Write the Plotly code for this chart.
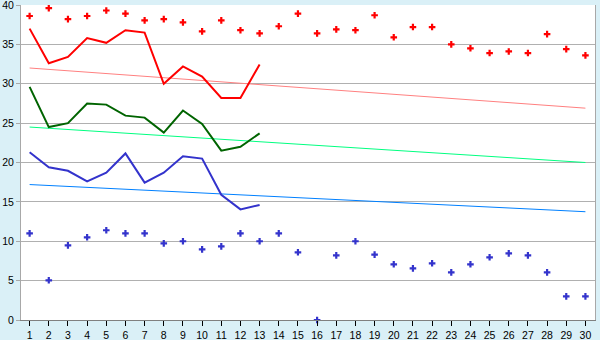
import plotly.graph_objects as go

days = list(range(1, 31))
line_days = list(range(1, 14))

red_points = [38.6, 39.6, 38.2, 38.6, 39.3, 38.9, 38.05, 38.2, 37.8, 36.65,
              38.05, 36.8, 36.4, 37.3, 38.9, 36.4, 36.9, 36.8, 38.7, 35.9,
              37.2, 37.2, 35.0, 34.5, 33.9, 34.1, 33.9, 36.3, 34.4, 33.6]
blue_points = [11.0, 5.04, 9.48, 10.5, 11.4, 11.0, 11.0, 9.73, 10.0, 8.97,
               9.35, 11.0, 10.0, 11.0, 8.6, 0.0, 8.21, 10.0, 8.3, 7.07,
               6.56, 7.2, 6.05, 7.07, 7.96, 8.46, 8.21, 6.05, 3.0, 3.0]

red_line = [37.0, 32.6, 33.4, 35.8, 35.2, 36.8, 36.5, 30.0, 32.2, 30.9, 28.2, 28.2, 32.45]
green_line = [29.6, 24.5, 25.0, 27.5, 27.35, 25.95, 25.7, 23.8, 26.6, 24.9, 21.5, 22.0, 23.7]
blue_line = [21.3, 19.4, 18.95, 17.6, 18.7, 21.15, 17.45, 18.7, 20.8, 20.5, 15.9, 14.05, 14.6]

trend_days = [1, 30]
red_trend = [32.0, 26.9]
green_trend = [24.5, 20.0]
blue_trend = [17.2, 13.75]

fig = go.Figure()
fig.add_trace(go.Scatter(x=trend_days, y=red_trend, mode="lines",
                         line=dict(color="#ff8080", width=1)))
fig.add_trace(go.Scatter(x=trend_days, y=green_trend, mode="lines",
                         line=dict(color="#00ff80", width=1)))
fig.add_trace(go.Scatter(x=trend_days, y=blue_trend, mode="lines",
                         line=dict(color="#0080ff", width=1)))
fig.add_trace(go.Scatter(x=line_days, y=red_line, mode="lines",
                         line=dict(color="#ff0000", width=2)))
fig.add_trace(go.Scatter(x=line_days, y=green_line, mode="lines",
                         line=dict(color="#006400", width=2)))
fig.add_trace(go.Scatter(x=line_days, y=blue_line, mode="lines",
                         line=dict(color="#3333cc", width=2)))
fig.add_trace(go.Scatter(x=days, y=red_points, mode="markers",
                         marker=dict(symbol="cross", size=5.5, color="#ff0000")))
fig.add_trace(go.Scatter(x=days, y=blue_points, mode="markers",
                         marker=dict(symbol="cross", size=5.5, color="#3333cc"),
                         cliponaxis=False))

fig.update_layout(
    width=600, height=340,
    margin=dict(l=21, r=5, t=5, b=20, autoexpand=False),
    paper_bgcolor="#daf0f7",
    plot_bgcolor="#ffffff",
    showlegend=False,
    font=dict(family="Liberation Sans", size=10.5, color="#000000"),
)
fig.update_xaxes(
    range=[0.55, 30.5], tickmode="array", tickvals=days,
    ticktext=[str(d) for d in days],
    showgrid=False, zeroline=False, automargin=False,
    showline=True, linecolor="#808080", linewidth=1,
    ticks="outside", ticklen=5, tickcolor="#000000", ticklabelstandoff=0,
)
fig.update_yaxes(
    range=[0, 40], dtick=5, tick0=0, automargin=False,
    showgrid=True, gridcolor="#b0b0b0", gridwidth=1, zeroline=False,
    showline=True, linecolor="#a8a8a8", linewidth=1, mirror=True,
    ticks="outside", ticklen=4, tickcolor="#a8a8a8",
    ticklabeloverflow="allow",
)

fig.write_html("out.html")
